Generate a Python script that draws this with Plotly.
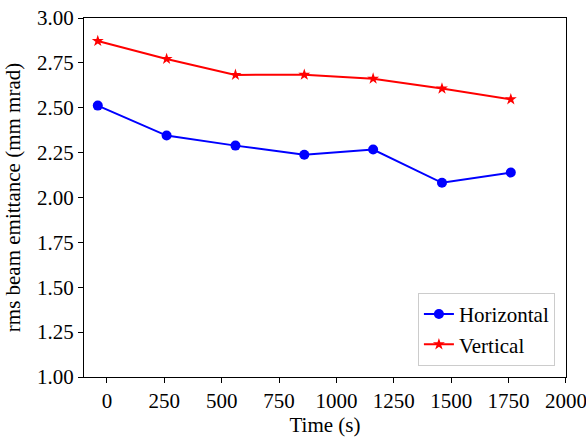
import plotly.graph_objects as go

# Beam emittance measured over time
time_s = [-40, 260, 560, 860, 1160, 1460, 1760]
emit_horizontal = [2.512, 2.345, 2.289, 2.238, 2.267, 2.082, 2.139]
emit_vertical = [2.872, 2.772, 2.683, 2.684, 2.662, 2.607, 2.547]

x_ticks = [0, 250, 500, 750, 1000, 1250, 1500, 1750, 2000]
y_ticks = [1.00, 1.25, 1.50, 1.75, 2.00, 2.25, 2.50, 2.75, 3.00]

FONT = "Liberation Serif"
FS = 21

fig = go.Figure()
fig.add_trace(go.Scatter(
    x=time_s, y=emit_horizontal, mode="lines+markers", name="Horizontal",
    line=dict(color="blue", width=2),
    marker=dict(symbol="circle", size=10, color="blue"),
))
fig.add_trace(go.Scatter(
    x=time_s, y=emit_vertical, mode="lines+markers", name="Vertical",
    line=dict(color="red", width=2),
    marker=dict(symbol="star", size=9, color="red"),
))

axis_common = dict(
    showgrid=False, zeroline=False, showline=True, mirror=True,
    linecolor="black", linewidth=1, ticks="outside", ticklen=5,
    tickcolor="black", tickwidth=1, automargin=False,
    ticklabeloverflow="allow",
    tickfont=dict(family=FONT, size=FS, color="black"),
)

fig.update_layout(
    width=586, height=437,
    margin=dict(l=84, r=20, t=18, b=60),
    paper_bgcolor="white", plot_bgcolor="white",
    font=dict(family=FONT, color="black"),
    xaxis=dict(
        range=[-100, 2000.5], tickvals=x_ticks,
        ticktext=[str(v) for v in x_ticks],
        title=dict(text="Time (s)", font=dict(family=FONT, size=FS), standoff=10),
        **axis_common,
    ),
    yaxis=dict(
        range=[1.0, 3.0], tickvals=y_ticks,
        ticktext=[f"{v:.2f}" for v in y_ticks],
        title=dict(text="rms beam emittance (mm mrad)", font=dict(family=FONT, size=FS), standoff=10),
        **axis_common,
    ),
    legend=dict(
        x=0.977, y=0.031, xanchor="right", yanchor="bottom",
        bgcolor="rgba(255,255,255,0.8)", bordercolor="#cccccc", borderwidth=1,
        font=dict(family=FONT, size=FS, color="black"),
        tracegroupgap=4,
    ),
    showlegend=True,
)

fig.write_html("out.html")
